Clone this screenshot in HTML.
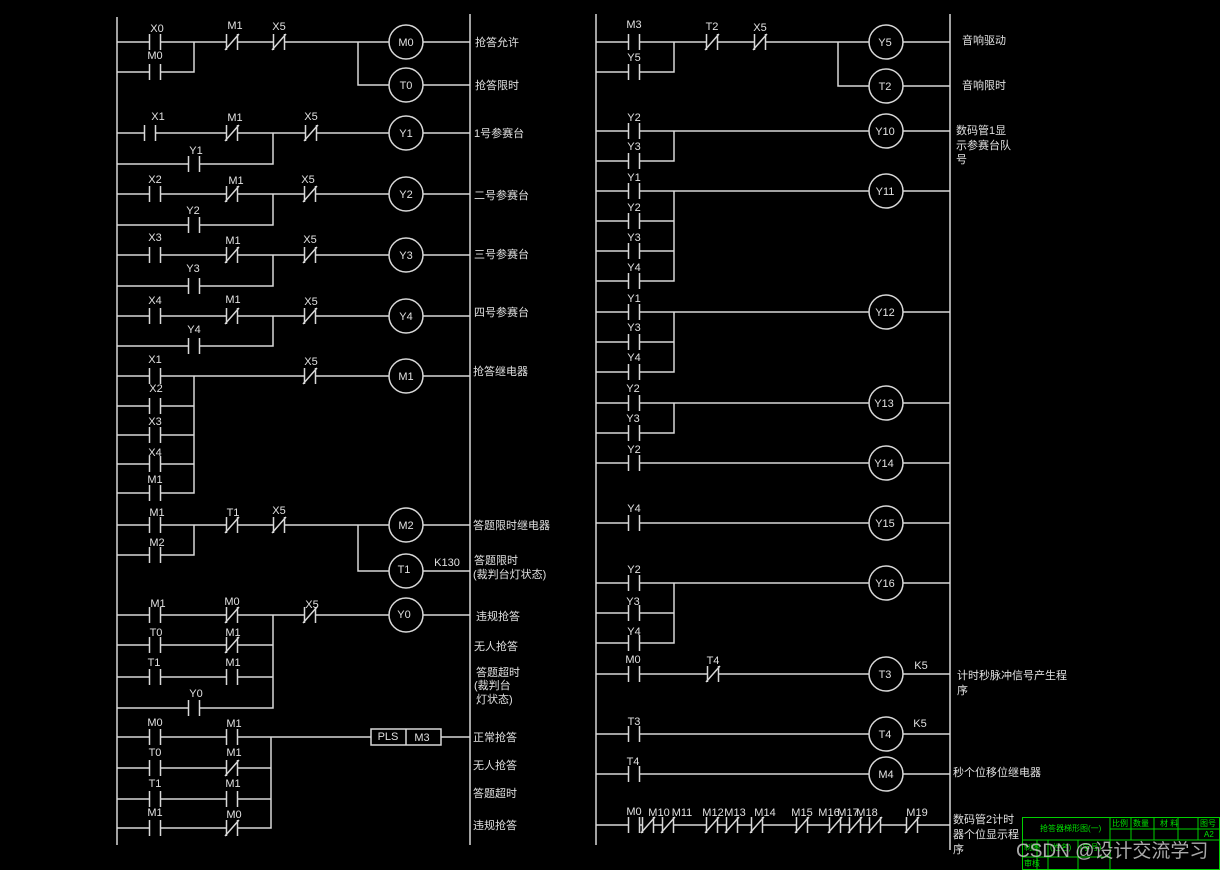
<!DOCTYPE html>
<html><head><meta charset="utf-8"><style>
html,body{margin:0;padding:0;background:#000;}
svg{display:block}
.t{font-family:"Liberation Sans",sans-serif;font-size:11px;fill:#e0e0e0;text-anchor:middle;stroke:none}
.c{font-family:"Liberation Sans","Noto Sans CJK SC",sans-serif;font-size:11px;fill:#e0e0e0;stroke:none}
.g{font-family:"Liberation Sans","Noto Sans CJK SC",sans-serif;font-size:8px;fill:#00e000;stroke:none}
</style></head><body>
<svg width="1220" height="870" viewBox="0 0 1220 870" xmlns="http://www.w3.org/2000/svg">
<defs>
<g id="no"><rect x="-5" y="-2" width="10" height="4" fill="#000" stroke="none"/><path d="M-5.5 -8V8M5.5 -8V8"/></g>
<g id="nc"><use href="#no"/><path d="M-7 8L7 -8"/></g>
<circle id="coil" r="17" fill="#000"/>
</defs>
<rect width="1220" height="870" fill="#000"/>
<g stroke="#d8d8d8" stroke-width="1.5" fill="none">
<path d="M117 17V845M470 14V845"/>
<path d="M117 42H470M117 72H194V42M358 42V85H470
M117 133H470M117 164H273V133
M117 194H470M117 225H273V194
M117 255H470M117 286H273V255
M117 316H470M117 346H273V316
M117 376H470M117 406H194M117 435H194M117 464H194M117 493H194V376
M117 525H470M117 555H194V525M358 525V571H470
M117 615H470M117 645H273M117 677H273M117 708H273V615
M117 737H371M441 737H470M117 768H271M117 799H271M117 828H271V737"/>
<use href="#no" x="155" y="42"/><use href="#nc" x="232" y="42"/><use href="#nc" x="279" y="42"/><use href="#no" x="155" y="72"/>
<use href="#coil" x="406" y="42"/><use href="#coil" x="406" y="85"/>
<use href="#no" x="150" y="133"/><use href="#nc" x="232" y="133"/><use href="#nc" x="311" y="133"/><use href="#no" x="194" y="164"/><use href="#coil" x="406" y="133"/>
<use href="#no" x="155" y="194"/><use href="#nc" x="232" y="194"/><use href="#nc" x="310" y="194"/><use href="#no" x="194" y="225"/><use href="#coil" x="406" y="194"/>
<use href="#no" x="155" y="255"/><use href="#nc" x="232" y="255"/><use href="#nc" x="310" y="255"/><use href="#no" x="194" y="286"/><use href="#coil" x="406" y="255"/>
<use href="#no" x="155" y="316"/><use href="#nc" x="232" y="316"/><use href="#nc" x="310" y="316"/><use href="#no" x="194" y="346"/><use href="#coil" x="406" y="316"/>
<use href="#no" x="155" y="376"/><use href="#nc" x="310" y="376"/><use href="#coil" x="406" y="376"/>
<use href="#no" x="155" y="406"/><use href="#no" x="155" y="435"/><use href="#no" x="155" y="464"/><use href="#no" x="155" y="493"/>
<use href="#no" x="155" y="525"/><use href="#nc" x="232" y="525"/><use href="#nc" x="279" y="525"/><use href="#no" x="155" y="555"/>
<use href="#coil" x="406" y="525"/><use href="#coil" x="406" y="571"/>
<use href="#no" x="155" y="615"/><use href="#nc" x="232" y="615"/><use href="#nc" x="310" y="615"/><use href="#coil" x="406" y="615"/>
<use href="#no" x="155" y="645"/><use href="#nc" x="232" y="645"/>
<use href="#no" x="155" y="677"/><use href="#no" x="232" y="677"/>
<use href="#no" x="194" y="708"/>
<use href="#no" x="155" y="737"/><use href="#no" x="232" y="737"/>
<use href="#no" x="155" y="768"/><use href="#nc" x="232" y="768"/>
<use href="#no" x="155" y="799"/><use href="#no" x="232" y="799"/>
<use href="#no" x="155" y="828"/><use href="#nc" x="232" y="828"/>
<rect x="371" y="729" width="70" height="16"/><path d="M406 729V745"/>

<path d="M596 14V845M950 14V850"/>
<path d="M596 42H950M596 72H674V42M838 42V86H950
M596 131H950M596 161H674V131
M596 191H950M596 221H674M596 251H674M596 281H674V191
M596 312H950M596 342H674M596 372H674V312
M596 403H950M596 433H674V403
M596 463H950
M596 523H950
M596 583H950M596 613H674M596 643H674V583
M596 674H950
M596 734H950
M596 774H950
M596 825H950"/>
<use href="#no" x="634" y="42"/><use href="#nc" x="712" y="42"/><use href="#nc" x="760" y="42"/><use href="#no" x="634" y="72"/>
<use href="#coil" x="886" y="42"/><use href="#coil" x="886" y="86"/>
<use href="#no" x="634" y="131"/><use href="#no" x="634" y="161"/><use href="#coil" x="886" y="131"/>
<use href="#no" x="634" y="191"/><use href="#no" x="634" y="221"/><use href="#no" x="634" y="251"/><use href="#no" x="634" y="281"/><use href="#coil" x="886" y="191"/>
<use href="#no" x="634" y="312"/><use href="#no" x="634" y="342"/><use href="#no" x="634" y="372"/><use href="#coil" x="886" y="312"/>
<use href="#no" x="634" y="403"/><use href="#no" x="634" y="433"/><use href="#coil" x="886" y="403"/>
<use href="#no" x="634" y="463"/><use href="#coil" x="886" y="463"/>
<use href="#no" x="634" y="523"/><use href="#coil" x="886" y="523"/>
<use href="#no" x="634" y="583"/><use href="#no" x="634" y="613"/><use href="#no" x="634" y="643"/><use href="#coil" x="886" y="583"/>
<use href="#no" x="634" y="674"/><use href="#nc" x="713" y="674"/><use href="#coil" x="886" y="674"/>
<use href="#no" x="634" y="734"/><use href="#coil" x="886" y="734"/>
<use href="#no" x="634" y="774"/><use href="#coil" x="886" y="774"/>
<use href="#no" x="634" y="825"/><use href="#nc" x="648" y="825"/><use href="#nc" x="668" y="825"/><use href="#nc" x="712" y="825"/><use href="#nc" x="732" y="825"/><use href="#nc" x="757" y="825"/><use href="#nc" x="802" y="825"/><use href="#nc" x="835" y="825"/><use href="#nc" x="855" y="825"/><use href="#nc" x="875" y="825"/><use href="#nc" x="912" y="825"/>
</g>

<g class="t">
<text x="157" y="32">X0</text><text x="235" y="29">M1</text><text x="279" y="30">X5</text><text x="155" y="59">M0</text>
<text x="406" y="46">M0</text><text x="406" y="89">T0</text>
<text x="158" y="120">X1</text><text x="235" y="121">M1</text><text x="311" y="120">X5</text><text x="196" y="154">Y1</text><text x="406" y="137">Y1</text>
<text x="155" y="183">X2</text><text x="236" y="184">M1</text><text x="308" y="183">X5</text><text x="193" y="214">Y2</text><text x="406" y="198">Y2</text>
<text x="155" y="241">X3</text><text x="233" y="244">M1</text><text x="310" y="243">X5</text><text x="193" y="272">Y3</text><text x="406" y="259">Y3</text>
<text x="155" y="304">X4</text><text x="233" y="303">M1</text><text x="311" y="305">X5</text><text x="194" y="333">Y4</text><text x="406" y="320">Y4</text>
<text x="155" y="363">X1</text><text x="156" y="392">X2</text><text x="155" y="425">X3</text><text x="155" y="456">X4</text><text x="155" y="483">M1</text>
<text x="311" y="365">X5</text><text x="406" y="380">M1</text>
<text x="157" y="516">M1</text><text x="233" y="516">T1</text><text x="279" y="514">X5</text><text x="157" y="546">M2</text>
<text x="406" y="529">M2</text><text x="404" y="573">T1</text><text x="447" y="566">K130</text>
<text x="158" y="607">M1</text><text x="232" y="605">M0</text><text x="312" y="608">X5</text><text x="404" y="618">Y0</text>
<text x="156" y="636">T0</text><text x="233" y="636">M1</text>
<text x="154" y="666">T1</text><text x="233" y="666">M1</text>
<text x="196" y="697">Y0</text>
<text x="155" y="726">M0</text><text x="234" y="727">M1</text>
<text x="155" y="756">T0</text><text x="234" y="756">M1</text>
<text x="155" y="787">T1</text><text x="233" y="787">M1</text>
<text x="155" y="816">M1</text><text x="234" y="818">M0</text>
<text x="388" y="740">PLS</text><text x="422" y="741">M3</text>
</g>
<g class="c">
<text x="475" y="46">抢答允许</text><text x="475" y="89">抢答限时</text>
<text x="474" y="137">1号参赛台</text><text x="474" y="199">二号参赛台</text><text x="474" y="258">三号参赛台</text><text x="474" y="316">四号参赛台</text>
<text x="473" y="375">抢答继电器</text>
<text x="473" y="529">答题限时继电器</text><text x="474" y="564">答题限时</text><text x="473" y="578">(裁判台灯状态)</text>
<text x="476" y="620">违规抢答</text><text x="474" y="650">无人抢答</text><text x="476" y="676">答题超时</text><text x="474" y="689">(裁判台</text><text x="476" y="703">灯状态)</text>
<text x="473" y="741">正常抢答</text><text x="473" y="769">无人抢答</text><text x="473" y="797">答题超时</text><text x="473" y="829">违规抢答</text>
</g>

<g class="t">
<text x="634" y="28">M3</text><text x="712" y="30">T2</text><text x="760" y="31">X5</text><text x="634" y="61">Y5</text>
<text x="885" y="46">Y5</text><text x="885" y="90">T2</text>
<text x="634" y="121">Y2</text><text x="634" y="150">Y3</text><text x="885" y="135">Y10</text>
<text x="634" y="181">Y1</text><text x="634" y="211">Y2</text><text x="634" y="241">Y3</text><text x="634" y="271">Y4</text><text x="885" y="195">Y11</text>
<text x="634" y="302">Y1</text><text x="634" y="331">Y3</text><text x="634" y="361">Y4</text><text x="885" y="316">Y12</text>
<text x="633" y="392">Y2</text><text x="633" y="422">Y3</text><text x="884" y="407">Y13</text>
<text x="634" y="453">Y2</text><text x="884" y="467">Y14</text>
<text x="634" y="512">Y4</text><text x="885" y="527">Y15</text>
<text x="634" y="573">Y2</text><text x="633" y="605">Y3</text><text x="634" y="635">Y4</text><text x="885" y="587">Y16</text>
<text x="633" y="663">M0</text><text x="713" y="664">T4</text><text x="885" y="678">T3</text><text x="921" y="669">K5</text>
<text x="634" y="725">T3</text><text x="885" y="738">T4</text><text x="920" y="727">K5</text>
<text x="633" y="765">T4</text><text x="886" y="778">M4</text>
<text x="634" y="815">M0</text><text x="659" y="816">M10</text><text x="682" y="816">M11</text><text x="713" y="816">M12</text><text x="735" y="816">M13</text><text x="765" y="816">M14</text><text x="802" y="816">M15</text><text x="829" y="816">M16</text><text x="848" y="816">M17</text><text x="867" y="816">M18</text><text x="917" y="816">M19</text>
</g>
<g class="c">
<text x="962" y="44">音响驱动</text><text x="962" y="89">音响限时</text>
<text x="956" y="134">数码管1显</text><text x="956" y="149">示参赛台队</text><text x="956" y="163">号</text>
<text x="957" y="679">计时秒脉冲信号产生程</text><text x="957" y="694">序</text>
<text x="953" y="776">秒个位移位继电器</text>
<text x="953" y="823">数码管2计时</text><text x="953" y="838">器个位显示程</text><text x="953" y="853">序</text>
</g>

<g stroke="#00d000" stroke-width="1" fill="none">
<rect x="1022.5" y="817.5" width="197" height="52"/>
<path d="M1110 817V870M1022 840H1220M1110 829H1220M1131 817V840M1154 817V840M1178 817V840M1198 817V840M1022 857H1110M1048 840V870M1078 840V870M1037 840V870"/>
</g>
<g class="g">
<text x="1040" y="831">抢答器梯形图(一)</text><text x="1112" y="826">比例</text><text x="1133" y="826">数量</text><text x="1160" y="826">材 料</text><text x="1200" y="826">图号</text><text x="1204" y="837">A2</text>
<text x="1024" y="850">制图</text><text x="1050" y="850">(姓名)</text><text x="1080" y="850">(学号)</text><text x="1024" y="866">审核</text>
</g>
<text x="1016" y="857" style="font-family:'Liberation Sans','Noto Sans CJK SC',sans-serif;font-size:19px;fill:#c8c8c8;fill-opacity:0.85">CSDN @设计交流学习</text>
</svg>
</body></html>
